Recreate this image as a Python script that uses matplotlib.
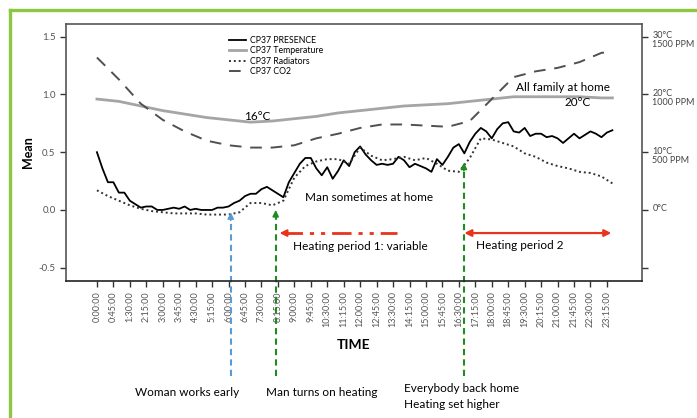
import numpy as np
import matplotlib
matplotlib.use('Agg')
import matplotlib.pyplot as plt
from matplotlib.lines import Line2D
import matplotlib.transforms as mtransforms

# presence, every 15 minutes from 0:00 to 23:30
presence = [0.50, 0.36, 0.24, 0.24, 0.15, 0.15, 0.08, 0.05, 0.02, 0.03, 0.03, 0.00,
            0.00, 0.01, 0.02, 0.01, 0.03, 0.00, 0.01, 0.00, 0.00, 0.00, 0.02, 0.02,
            0.03, 0.06, 0.08, 0.12, 0.14, 0.14, 0.18, 0.20, 0.17, 0.14, 0.11, 0.24,
            0.32, 0.40, 0.45, 0.45, 0.36, 0.30, 0.37, 0.27, 0.34, 0.43, 0.38, 0.50,
            0.55, 0.48, 0.43, 0.39, 0.40, 0.39, 0.40, 0.46, 0.43, 0.37, 0.40, 0.38,
            0.36, 0.33, 0.44, 0.39, 0.46, 0.54, 0.57, 0.49, 0.59, 0.66, 0.71, 0.68,
            0.62, 0.70, 0.75, 0.76, 0.68, 0.67, 0.71, 0.64, 0.66, 0.66, 0.63, 0.64,
            0.62, 0.58, 0.62, 0.66, 0.62, 0.65, 0.68, 0.66, 0.63, 0.67, 0.69]

# radiators, every 30 minutes from 0:00 to 23:30
radiators = [0.17, 0.12, 0.08, 0.04, 0.01, -0.01, -0.02, -0.03, -0.03, -0.03, -0.04, -0.04,
             -0.04, -0.02, 0.06, 0.06, 0.04, 0.08, 0.28, 0.38, 0.42, 0.44, 0.44, 0.40,
             0.54, 0.47, 0.43, 0.44, 0.46, 0.43, 0.45, 0.40, 0.34, 0.33, 0.45, 0.62,
             0.61, 0.58, 0.55, 0.49, 0.46, 0.41, 0.38, 0.36, 0.33, 0.32, 0.29, 0.23]

# temperature and CO2, hourly
hourly_x = [0, 1, 2, 3, 4, 5, 6, 7, 8, 9, 10, 11, 12, 13, 14, 15, 16, 17, 18, 19, 20, 21, 22, 23, 23.5]
temperature = [0.96, 0.94, 0.90, 0.86, 0.83, 0.80, 0.78, 0.76, 0.77, 0.79, 0.81, 0.84, 0.86,
               0.88, 0.90, 0.91, 0.92, 0.94, 0.96, 0.98, 0.98, 0.98, 0.98, 0.97, 0.97]
co2 = [1.32, 1.13, 0.92, 0.78, 0.68, 0.60, 0.56, 0.54, 0.54, 0.56, 0.62, 0.66, 0.71,
       0.74, 0.74, 0.73, 0.72, 0.77, 0.96, 1.15, 1.20, 1.23, 1.28, 1.36, 1.37]

y_ticks = [-0.5, 0.0, 0.5, 1.0, 1.5]
right_labels = ['', '0°C', '10°C\n500 PPM', '20°C\n1000 PPM', '30°C\n1500 PPM']
tick_hours = np.arange(0, 23.5, 0.75)
tick_labels = ['%d:%02d:00' % (int(h), round((h % 1) * 60)) for h in tick_hours]

plt.rcParams['font.family'] = 'Lato'

fig = plt.figure(figsize=(6.97, 4.18), dpi=100)
ax = fig.add_axes([0.0947, 0.3278, 0.8264, 0.6148])

pres_x = np.arange(len(presence)) * 0.25
rad_x = np.arange(len(radiators)) * 0.5
ax.plot(pres_x, presence, color='black', lw=1.3, label='CP37 PRESENCE')
ax.plot(hourly_x, temperature, color='#a5a5a5', lw=2.0, label='CP37 Temperature')
ax.plot(rad_x, radiators, color='#333333', lw=1.4, ls=(0, (1, 1.5)), label='CP37 Radiators')
ax.plot(hourly_x, co2, color='#505050', lw=1.4, ls=(0, (6, 4.5)), label='CP37 CO2')

ax.set_xlim(-1.41, 24.85)
ax.set_ylim(-0.615, 1.61)
ax.set_yticks(y_ticks)
ax.set_yticklabels(['-0.5', '0.0', '0.5', '1.0', '1.5'], fontsize=7, color='#555555')
ax.set_xticks(tick_hours)
ax.set_xticklabels(tick_labels, rotation=90, fontsize=6.5, color='#555555')
ax.tick_params(axis='both', direction='out', length=4, width=1, color='#333333')
for s in ax.spines.values():
    s.set_color('#555555')
    s.set_linewidth(1.2)
ax.spines['bottom'].set_color('#222222')
ax.set_ylabel('Mean', fontsize=9, fontweight='bold', labelpad=3)
ax.set_xlabel('TIME', fontsize=10, fontweight='bold', labelpad=8)

leg = ax.legend(loc='upper left', bbox_to_anchor=(0.275, 0.97), frameon=False,
                fontsize=6.3, handlelength=2.0, labelspacing=0.15, handletextpad=0.4,
                borderpad=0)

ax2 = ax.twinx()
ax2.set_ylim(ax.get_ylim())
ax2.set_yticks(y_ticks)
ax2.set_yticklabels(right_labels, fontsize=6.5, color='#444444', va='top', linespacing=1.0)
ax2.tick_params(axis='y', direction='out', length=4, width=1, color='#333333')
shift = mtransforms.ScaledTranslation(0, 4 / 72, fig.dpi_scale_trans)
for lab in ax2.get_yticklabels():
    lab.set_transform(lab.get_transform() + shift)
for s in ax2.spines.values():
    s.set_visible(False)

# annotations inside the plot
ax.text(7.3, 0.81, '16°C', fontsize=8.5, ha='center', va='center')
ax.text(19.1, 1.06, 'All family at home', fontsize=8.5, ha='left', va='center')
ax.text(21.9, 0.93, '20°C', fontsize=8.5, ha='center', va='center')
ax.text(9.5, 0.11, 'Man sometimes at home', fontsize=8.5, ha='left', va='center')
ax.text(8.95, -0.32, 'Heating period 1: variable', fontsize=8.5, ha='left', va='center')
ax.text(17.3, -0.31, 'Heating period 2', fontsize=8.5, ha='left', va='center')

red = '#e8341c'
ax.plot([8.5, 13.7], [-0.2, -0.2], color=red, lw=2, ls=(0, (7, 2.5, 1.5, 2.5, 1.5, 2.5)))
ax.annotate('', xy=(8.2, -0.2), xytext=(8.7, -0.2),
            arrowprops=dict(arrowstyle='-|>', color=red, lw=1.5, mutation_scale=10))
ax.annotate('', xy=(16.75, -0.2), xytext=(23.45, -0.2),
            arrowprops=dict(arrowstyle='<|-|>', color=red, lw=1.6, mutation_scale=10,
                            shrinkA=0, shrinkB=0))

# vertical event arrows
events = [(6.1, -0.02, '#5b9bd5'), (8.15, 0.0, '#1e8c1e'), (16.73, 0.41, '#1e8c1e')]
for ex, ey, c in events:
    ax.plot([ex, ex], [-1.44, ey - 0.05], color=c, lw=1.5, ls=(0, (3, 2)), clip_on=False)
    ax.annotate('', xy=(ex, ey), xytext=(ex, ey - 0.07),
                arrowprops=dict(arrowstyle='-|>', color=c, lw=1.2, mutation_scale=9,
                                shrinkA=0, shrinkB=0), annotation_clip=False)

fig.text(135 / 697, 1 - 393 / 418, 'Woman works early', fontsize=8.5, va='center')
fig.text(266 / 697, 1 - 392 / 418, 'Man turns on heating', fontsize=8.5, va='center')
fig.text(404 / 697, 1 - 389 / 418, 'Everybody back home', fontsize=8.5, va='center')
fig.text(404 / 697, 1 - 405 / 418, 'Heating set higher', fontsize=8.5, va='center')

# green frame around the figure
green = '#8dc63f'
fig.add_artist(Line2D([9.5 / 697, 9.5 / 697], [0, 1 - 9.5 / 418], color=green, lw=2.4))
fig.add_artist(Line2D([9.5 / 697, 1], [1 - 9.5 / 418, 1 - 9.5 / 418], color=green, lw=2.4))

fig.savefig('out.png', dpi=100)
